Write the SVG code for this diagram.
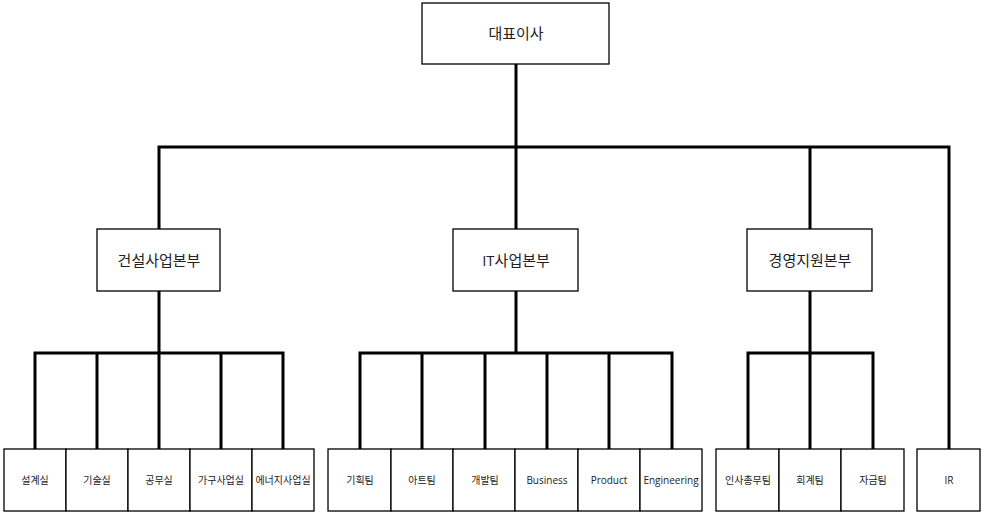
<svg xmlns="http://www.w3.org/2000/svg" width="985" height="518" viewBox="0 0 985 518">
<style>
rect{fill:#fff;stroke:#000;stroke-width:1.3}
text{font-family:"Open Sans","Noto Sans CJK KR",sans-serif;text-anchor:middle;dominant-baseline:central;fill:#222}
.s{font-size:10px}
.m{font-size:15px}
#c path{fill:none;stroke:#000;stroke-width:3}
</style>
<rect x="0" y="0" width="985" height="518" style="stroke:none"/>
<g id="c">
<path d="M516 64V147M159 229V147H949V449M516 147V229M810 147V229"/>
<path d="M159 291V353M35 449V353H283V449M97 353V449M159 353V449M221 353V449"/>
<path d="M516 291V353M360 449V353H672V449M422 353V449M485 353V449M547 353V449M609 353V449"/>
<path d="M810 291V353M748 449V353H873V449M810 353V449"/>
</g>
<g id="ceo"><rect x="422" y="3" width="187" height="61"/><text class="m" x="516" y="33">대표이사</text></g>
<g id="d1"><rect x="97" y="229" width="123" height="62"/><text class="m" x="159" y="260">건설사업본부</text></g>
<g id="d2"><rect x="453" y="229" width="125" height="62"/><text class="m" x="516" y="260">IT사업본부</text></g>
<g id="d3"><rect x="747" y="229" width="125" height="62"/><text class="m" x="810" y="260">경영지원본부</text></g>
<g id="t1"><rect x="4" y="449" width="62" height="62"/><text class="s" x="35" y="480">설계실</text></g>
<g id="t2"><rect x="66" y="449" width="62" height="62"/><text class="s" x="97" y="480">기술실</text></g>
<g id="t3"><rect x="128" y="449" width="62" height="62"/><text class="s" x="159" y="480">공무실</text></g>
<g id="t4"><rect x="190" y="449" width="62" height="62"/><text class="s" x="221" y="480">가구사업실</text></g>
<g id="t5"><rect x="252" y="449" width="62" height="62"/><text class="s" x="283" y="480">에너지사업실</text></g>
<g id="t6"><rect x="328" y="449" width="63" height="62"/><text class="s" x="360" y="480">기획팀</text></g>
<g id="t7"><rect x="391" y="449" width="62" height="62"/><text class="s" x="422" y="480">아트팀</text></g>
<g id="t8"><rect x="453" y="449" width="62" height="62"/><text class="s" x="485" y="480">개발팀</text></g>
<g id="t9"><rect x="515" y="449" width="63" height="62"/><text class="s" x="547" y="480">Business</text></g>
<g id="t10"><rect x="578" y="449" width="62" height="62"/><text class="s" x="609" y="480">Product</text></g>
<g id="t11"><rect x="640" y="449" width="62" height="62"/><text class="s" x="671" y="480">Engineering</text></g>
<g id="t12"><rect x="716" y="449" width="63" height="62"/><text class="s" x="748" y="480">인사총무팀</text></g>
<g id="t13"><rect x="779" y="449" width="62" height="62"/><text class="s" x="810" y="480">회계팀</text></g>
<g id="t14"><rect x="841" y="449" width="63" height="62"/><text class="s" x="873" y="480">자금팀</text></g>
<g id="t15"><rect x="917" y="449" width="63" height="62"/><text class="s" x="949" y="480">IR</text></g>
</svg>
